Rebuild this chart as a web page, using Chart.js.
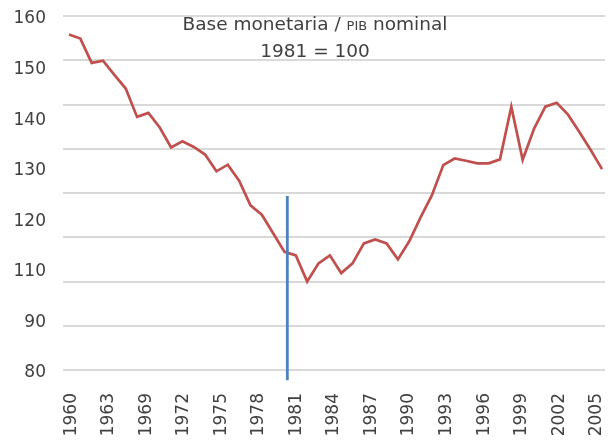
<!DOCTYPE html>
<html>
<head>
<meta charset="utf-8">
<script src="https://cdn.jsdelivr.net/npm/chart.js@4"></script>
<style>
html,body{margin:0;padding:0;background:#ffffff;}
#wrap{width:613px;height:440px;}
</style>
</head>
<body>
<div id="wrap"><canvas id="c" width="613" height="440"></canvas></div>
<script>
// ---- data ----
const categories = [1960,1961,1962,1963,1964,1965,1966,1967,1968,1969,1970,1971,1972,1973,1974,1975,1976,1977,1978,1979,1980,1981,1982,1983,1984,1985,1986,1987,1988,1989,1990,1991,1992,1993,1994,1995,1996,1997,1998,1999,2000,2001,2002,2003,2004,2005,2006,2007];
const values = [155.8,154.9,149.4,149.9,146.7,143.6,137.2,138.1,134.8,130.3,131.7,130.4,128.7,124.9,126.4,122.8,117.2,115.1,110.9,106.7,105.9,100.0,104.1,105.9,101.9,104.1,108.6,109.5,108.6,105.0,109.1,114.5,119.5,126.3,127.8,127.3,126.7,126.7,127.6,139.5,127.5,134.5,139.5,140.4,137.7,133.8,129.7,125.4];
const xTickLabels = ['1960','1963','1969','1972','1975','1978','1981','1984','1987','1990','1993','1996','1999','2002','2005'];
const yTickLabels = ['80','90','110','120','130','140','150','160'];
const markerPosition = 19.25;   // position of the vertical reference line on the point-index axis
const markerTop = 119.3;
const markerBottom = 77.7;
const titleLine1 = ['Base monetaria / ', 'PIB', ' nominal'];
const titleLine2 = '1981 = 100';

const TEXT = '#404040';
const FONT = 'DejaVu Sans';

const titlePlugin = {
  id: 'titleText',
  afterDraw(chart) {
    const ctx = chart.ctx;
    ctx.save();
    ctx.fillStyle = TEXT;
    ctx.textBaseline = 'middle';
    ctx.textAlign = 'left';
    const big = '18.5px "' + FONT + '"';
    const small = '13px "' + FONT + '"';
    const fonts = [big, small, big];
    let total = 0;
    const widths = titleLine1.map((t, i) => { ctx.font = fonts[i]; const w = ctx.measureText(t).width; total += w; return w; });
    const cx = 315;
    let x = cx - total / 2;
    titleLine1.forEach((t, i) => { ctx.font = fonts[i]; ctx.fillText(t, x, i === 1 ? 26.5 : 25); x += widths[i]; });
    ctx.font = big;
    ctx.textAlign = 'center';
    ctx.fillText(titleLine2, cx, 52.5);
    ctx.restore();
  }
};

new Chart(document.getElementById('c'), {
  type: 'line',
  data: {
    datasets: [
      {
        data: [{x: markerPosition, y: markerTop}, {x: markerPosition, y: markerBottom}],
        borderColor: '#4f81bd',
        borderWidth: 2.8,
        pointRadius: 0,
        clip: false,
        xAxisID: 'x',
        yAxisID: 'y'
      },
      {
        data: values.map((v, i) => ({x: i, y: v})),
        borderColor: '#c0504d',
        borderWidth: 2.7,
        pointRadius: 0,
        tension: 0,
        xAxisID: 'x',
        yAxisID: 'y'
      }
    ]
  },
  options: {
    responsive: false,
    animation: false,
    devicePixelRatio: 1,
    layout: { padding: { top: 16, right: 8, left: 0, bottom: 0 } },
    plugins: { legend: { display: false }, tooltip: { enabled: false }, title: { display: false } },
    scales: {
      x: { type: 'linear', min: -0.53, max: 47.26, display: false },
      y: {
        type: 'linear', position: 'left', min: 80, max: 160,
        ticks: { display: false, stepSize: 10 },
        grid: { color: '#d9d9d9', lineWidth: 2, drawTicks: false },
        border: { display: false },
        afterFit(s) { s.width = 0; s.paddingTop = 0; s.paddingBottom = 0; }
      },
      y2: {
        type: 'linear', position: 'left', min: 0.06, max: 7.06,
        grid: { display: false, drawTicks: false },
        border: { display: false },
        ticks: { padding: 17, autoSkip: false, color: TEXT, font: { family: FONT, size: 17 }, callback: (v) => yTickLabels[v] },
        afterBuildTicks(s) { s.ticks = yTickLabels.map((_, i) => ({ value: i })); },
        afterFit(s) { s.width = 63; s.paddingTop = 0; s.paddingBottom = 0; }
      },
      x2: {
        type: 'linear', position: 'bottom', min: -0.22, max: 14.22,
        grid: { display: false, drawTicks: false },
        border: { display: false },
        ticks: { minRotation: 90, maxRotation: 90, autoSkip: false, padding: 23, color: TEXT, font: { family: FONT, size: 17 }, callback: (v) => xTickLabels[v] },
        afterBuildTicks(s) { s.ticks = xTickLabels.map((_, i) => ({ value: i })); },
        afterFit(s) { s.height = 70; s.paddingLeft = 0; s.paddingRight = 0; }
      }
    }
  },
  plugins: [titlePlugin]
});
</script>
</body>
</html>
